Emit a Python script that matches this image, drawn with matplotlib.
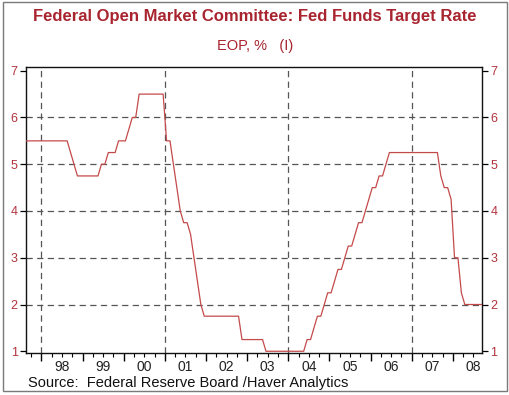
import matplotlib
matplotlib.use("Agg")
import matplotlib.pyplot as plt
import numpy as np
from matplotlib.patches import Rectangle
from matplotlib.ticker import FixedLocator, NullFormatter

# Monthly end-of-period Fed funds target rate, Aug 1997 .. Sep 2008
start_year, start_month = 1997, 8
rate_1997 = [5.5, 5.5, 5.5, 5.5, 5.5]  # Aug-Dec
rate_1998 = [5.5, 5.5, 5.5, 5.5, 5.5, 5.5, 5.5, 5.5, 5.25, 5.0, 4.75, 4.75]
rate_1999 = [4.75, 4.75, 4.75, 4.75, 4.75, 5.0, 5.0, 5.25, 5.25, 5.25, 5.5, 5.5]
rate_2000 = [5.5, 5.75, 6.0, 6.0, 6.5, 6.5, 6.5, 6.5, 6.5, 6.5, 6.5, 6.5]
rate_2001 = [5.5, 5.5, 5.0, 4.5, 4.0, 3.75, 3.75, 3.5, 3.0, 2.5, 2.0, 1.75]
rate_2002 = [1.75, 1.75, 1.75, 1.75, 1.75, 1.75, 1.75, 1.75, 1.75, 1.75, 1.25, 1.25]
rate_2003 = [1.25, 1.25, 1.25, 1.25, 1.25, 1.0, 1.0, 1.0, 1.0, 1.0, 1.0, 1.0]
rate_2004 = [1.0, 1.0, 1.0, 1.0, 1.0, 1.25, 1.25, 1.5, 1.75, 1.75, 2.0, 2.25]
rate_2005 = [2.25, 2.5, 2.75, 2.75, 3.0, 3.25, 3.25, 3.5, 3.75, 3.75, 4.0, 4.25]
rate_2006 = [4.5, 4.5, 4.75, 4.75, 5.0, 5.25, 5.25, 5.25, 5.25, 5.25, 5.25, 5.25]
rate_2007 = [5.25, 5.25, 5.25, 5.25, 5.25, 5.25, 5.25, 5.25, 4.75, 4.5, 4.5, 4.25]
rate_2008 = [3.0, 3.0, 2.25, 2.0, 2.0, 2.0, 2.0, 2.0, 2.0]  # Jan-Sep

year_labels = ["98", "99", "00", "01", "02", "03", "04", "05", "06", "07", "08"]
label_years = list(range(1998, 2009))
yticks = [1, 2, 3, 4, 5, 6, 7]
vgrid_years = [1998, 2001, 2004, 2007]

title = "Federal Open Market Committee: Fed Funds Target Rate"
subtitle = "EOP, %   (I)"
source = "Source:  Federal Reserve Board /Haver Analytics"

rates = np.array(rate_1997 + rate_1998 + rate_1999 + rate_2000 + rate_2001 + rate_2002
                 + rate_2003 + rate_2004 + rate_2005 + rate_2006 + rate_2007 + rate_2008)
months = np.arange(len(rates)) + (start_month - 1)
x = start_year + (months + 0.5) / 12.0

plt.rcParams['font.family'] = ['Liberation Sans', 'DejaVu Sans']

RED = "#a8242f"
TICKRED = "#b2323c"
LINE = "#c44a4a"

fig = plt.figure(figsize=(5.10, 3.95), dpi=100)
fig.add_artist(Rectangle((0.006, 0.010), 0.988, 0.985, transform=fig.transFigure,
                         fill=False, edgecolor="#7a7a7a", linewidth=1.0))

ax = fig.add_axes([0.051, 0.106, 0.894, 0.725])
ax.plot(x, rates, color=LINE, linewidth=0.9, zorder=3)
ax.set_xlim(x[0], x[-1])
ax.set_ylim(0.96, 7.085)

# grid
for yv in yticks[1:-1]:
    ax.axhline(yv, color="#555555", linewidth=0.9, linestyle=(0, (5, 3.5)), zorder=1)
for xv in vgrid_years:
    ax.axvline(xv, color="#555555", linewidth=0.9, linestyle=(0, (5, 3.5)), zorder=1)

# y ticks both sides
ax.set_yticks(yticks)
ax.tick_params(axis='y', which='major', direction='out', length=4, width=0.9,
               labelsize=9, labelcolor=TICKRED, left=True, right=True,
               labelleft=True, labelright=True, pad=2)

# x ticks
years = np.arange(1998, 2009)
ax.xaxis.set_major_locator(FixedLocator(years))
ax.xaxis.set_major_formatter(NullFormatter())
quarters = [y + q for y in range(1997, 2009) for q in (0.25, 0.5, 0.75)]
quarters = [q for q in quarters if x[0] <= q <= x[-1]]
ax.xaxis.set_minor_locator(FixedLocator(quarters))
lab_map = {ly + 0.5: lab for ly, lab in zip(label_years, year_labels)}
ax.xaxis.set_minor_formatter(matplotlib.ticker.FuncFormatter(
    lambda v, p: lab_map.get(round(v * 4) / 4, "")))
ax.tick_params(axis='x', which='major', direction='out', length=6, width=1.0)
ax.tick_params(axis='x', which='minor', direction='out', length=3, width=0.8,
               labelsize=10, labelcolor="#222222", pad=2)

for s in ax.spines.values():
    s.set_linewidth(1.0)
    s.set_color("#111111")

fig.text(0.5, 0.958, title, ha='center', va='center', fontsize=12,
         fontweight='bold', color=RED)
fig.text(0.5, 0.884, subtitle, ha='center', va='center', fontsize=10.5, color=RED)
fig.text(0.055, 0.030, source, ha='left', va='center', fontsize=10.5, color="#111111")

fig.savefig("out.png", dpi=100)
